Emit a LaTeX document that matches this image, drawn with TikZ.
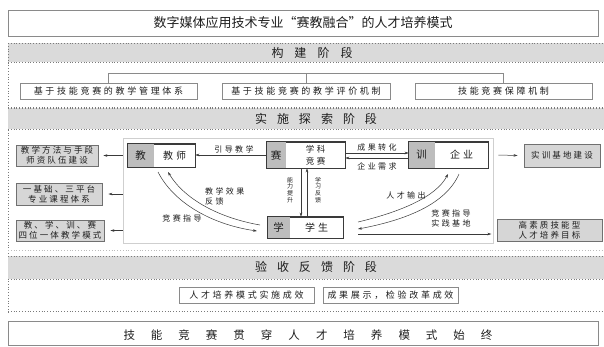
\documentclass[tikz,border=0pt]{standalone}
\usepackage{fontspec}
\setmainfont{Noto Sans CJK SC}
\newfontfamily\lsA[LetterSpace=30]{Noto Sans CJK SC}
\newfontfamily\lsB[LetterSpace=25]{Noto Sans CJK SC}
\usetikzlibrary{arrows.meta,calc}
\definecolor{bandgray}{HTML}{DADADA}
\definecolor{dotgray}{HTML}{7A7A7A}
\definecolor{boxgray}{HTML}{8A8A8A}
\definecolor{partgray}{HTML}{BDBDBD}
\definecolor{sidefill}{HTML}{D6D6D6}
\definecolor{sideborder}{HTML}{707070}
\definecolor{framegray}{HTML}{CFCFCF}
\definecolor{txt}{HTML}{1E1E1E}
\definecolor{linecol}{HTML}{3A3A3A}
\begin{document}
\begin{tikzpicture}[x=1pt,y=-1pt,
  every node/.style={text=txt, inner sep=0pt},
  dotline/.style={draw=dotgray, line width=0.6pt, dash pattern=on 0.8pt off 2pt},
  band/.style={fill=bandgray},
  heading/.style={font=\fontsize{12}{14}\selectfont},
  wbox/.style={draw=boxgray, line width=0.8pt, fill=white, font=\lsA\fontsize{9}{10}\selectfont},
  sidebox/.style={draw=sideborder, line width=0.9pt, fill=sidefill, align=center, font=\lsB\fontsize{8.5}{10}\selectfont},
  framebox/.style={draw=framegray, line width=0.6pt, fill=white},
  ibox/.style={draw=linecol, line width=0.7pt, fill=white},
  gpart/.style={fill=partgray},
  itext/.style={font=\lsA\fontsize{10}{12}\selectfont},
  ktext/.style={font=\fontsize{10.5}{12}\selectfont},
  lab/.style={font=\lsA\fontsize{8}{10}\selectfont},
  vlab/.style={font=\fontsize{6}{6.8}\selectfont, align=center},
  arr/.style={-{Stealth[length=4pt,width=2.6pt]}, draw=linecol, line width=0.5pt},
  conn/.style={draw=boxgray, line width=0.7pt}
]
\useasboundingbox (0,0) rectangle (604,346);

% ---------- title ----------
\node[draw=boxgray, line width=0.8pt, minimum width=590pt, minimum height=26pt,
      font=\fontsize{13}{15}\selectfont] (title) at (303,23) {数字媒体应用技术专业“赛教融合”的人才培养模式};

% ---------- build stage ----------
\fill[band] (8,43) rectangle (604,62);
\draw[dotline] (8,43) -- (604,43);
\draw[dotline] (8,62) -- (604,62);
\draw[dotline] (8,107) -- (604,107);
\draw[dotline] (8,43) -- (8,312);
\node[heading] (h1) at (312,52.5) {构\hspace{11pt}建\hspace{11pt}阶\hspace{11pt}段};

\node[wbox, minimum width=177pt, minimum height=16pt] (b1) at (108.5,91) {基于技能竞赛的教学管理体系};
\node[wbox, minimum width=168pt, minimum height=16pt] (b2) at (306,91) {基于技能竞赛的教学评价机制};
\node[wbox, minimum width=177pt, minimum height=16pt] (b3) at (503.5,91) {技能竞赛保障机制};
\coordinate (bar) at (0,73);
\draw[conn] (b1.north) -- (b1.north |- bar) -- (b3.north |- bar) -- (b3.north);
\draw[conn] (b2.north) -- (b2.north |- bar);

% ---------- implementation stage ----------
\fill[band] (8,108) rectangle (604,129);
\draw[dotline] (8,108) -- (604,108);
\draw[dotline] (8,129) -- (604,129);
\draw[dotline, draw=dotgray!50] (8,250) -- (604,250);
\node[heading] (h2) at (316,118.5) {实\hspace{10pt}施\hspace{10pt}探\hspace{10pt}索\hspace{10pt}阶\hspace{10pt}段};

\node[framebox, minimum width=370pt, minimum height=105pt] (frame) at (308,190.5) {};

% left boxes
\node[sidebox, minimum width=82pt, minimum height=21pt] (l1) at (57,155.5) {教学方法与手段\\师资队伍建设};
\node[sidebox, minimum width=86pt, minimum height=22pt] (l2) at (59,194) {一基础、三平台\\专业课程体系};
\node[sidebox, minimum width=88pt, minimum height=21pt] (l3) at (60,230.5) {教、学、训、赛\\四位一体教学模式};

% right boxes
\node[sidebox, minimum width=76pt, minimum height=23pt] (r1) at (562,155.5) {实训基地建设};
\node[sidebox, minimum width=105pt, minimum height=22pt] (r2) at (549.5,230) {高素质技能型\\人才培养目标};

% inner boxes
\node[ibox, minimum width=67pt, minimum height=23pt] (jiao) at (161.5,155.5) {};
\fill[gpart] (jiao.north west) rectangle ([xshift=26pt]jiao.south west);
\draw[ibox, fill=none] (jiao.north west) rectangle (jiao.south east);
\node[ktext] (jiaoK) at ($(jiao.west)+(13,0)$) {教};
\node[itext] (jiaoT) at ($(jiao.west)+(47,0)$) {教师};

\node[ibox, minimum width=78pt, minimum height=26pt] (sai) at (306,155) {};
\fill[gpart] (sai.north west) rectangle ([xshift=19pt]sai.south west);
\draw[ibox, fill=none] (sai.north west) rectangle (sai.south east);
\node[ktext] (saiK) at ($(sai.west)+(9.5,0)$) {赛};
\node[lab, align=center, font=\lsA\fontsize{8.5}{12}\selectfont] (saiT) at ($(sai.west)+(49,0)$) {学科\\竞赛};

\node[ibox, minimum width=79pt, minimum height=26pt] (xun) at (448.5,155) {};
\fill[gpart] (xun.north west) rectangle ([xshift=26pt]xun.south west);
\draw[ibox, fill=none] (xun.north west) rectangle (xun.south east);
\node[ktext] (xunK) at ($(xun.west)+(13,0)$) {训};
\node[itext] (xunT) at ($(xun.west)+(53,0)$) {企业};

\node[ibox, minimum width=75pt, minimum height=21pt] (xue) at (305.5,227.5) {};
\fill[gpart] (xue.north west) rectangle ([xshift=22pt]xue.south west);
\draw[ibox, fill=none] (xue.north west) rectangle (xue.south east);
\node[ktext] (xueK) at ($(xue.west)+(11,0)$) {学};
\node[itext] (xueT) at ($(xue.west)+(49,0)$) {学生};

% arrows to side boxes
\draw[arr] (l1.east -| frame.west) -- ([xshift=5pt]l1.east);
\draw[arr] (l2.east -| frame.west) -- ([xshift=6pt]l2.east);
\draw[arr] (l3.east -| frame.west) -- ([xshift=6pt]l3.east);
\draw[arr] ([xshift=10pt]xun.east) -- ([xshift=-6pt]r1.west);
\coordinate (gstart) at (358,234);
\draw[arr] (gstart) -- ([xshift=-2pt]gstart -| frame.east);

% sai -> jiao
\draw[arr] (sai.west) -- (sai.west -| jiao.east);
\node[lab] (lyd) at (234,149) {引导教学};

% sai <-> xun
\draw[arr] ([yshift=2pt]sai.east) -- ([yshift=2pt]xun.west);
\draw[arr] ([yshift=-3pt]xun.west) -- ([yshift=-3pt]sai.east);
\node[lab] (lcg) at (377,147) {成果转化};
\node[lab] (lqy) at (377,166) {企业需求};

% sai <-> xue
\draw[arr] ([xshift=-5pt]sai.south) -- ([xshift=-5pt]sai.south |- xue.north);
\draw[arr] ([xshift=1pt]sai.south |- xue.north) -- ([xshift=1pt]sai.south);
\node[vlab] (lnl) at (290,190) {能\\力\\提\\升};
\node[vlab] (lxx) at (318,190) {学\\习\\反\\馈};

% jiao <-> xue curves
\coordinate (ca1) at (158,172);
\coordinate (ca2) at (257,231);
\coordinate (cb1) at (260,225);
\coordinate (cb2) at (168,172);
\draw[arr] (ca1) .. controls (175,205) and (215,225) .. (ca2);
\draw[arr] (cb1) .. controls (220,218) and (185,200) .. (cb2);
\node[lab, align=left, anchor=west] (lxg) at (205,196) {教学效果\\反馈};
\node[lab] (ljs) at (182,218) {竞赛指导};

% xue <-> xun curves
\coordinate (cc1) at (358,222);
\coordinate (cc2) at (448,174);
\coordinate (cd1) at (459,174);
\coordinate (cd2) at (358,229);
\draw[arr] (cc1) .. controls (400,212) and (436,197) .. (cc2);
\draw[arr] (cd1) .. controls (446,204) and (406,220) .. (cd2);
\node[lab] (lrc) at (406,195) {人才输出};
\node[lab, align=center] (ljd) at (451,218.5) {竞赛指导\\实践基地};

% ---------- acceptance stage ----------
\fill[band] (8,256) rectangle (604,279);
\draw[dotline] (8,256) -- (604,256);
\draw[dotline] (8,279) -- (604,279);
\draw[dotline] (8,311) -- (604,311);
\node[heading] (h3) at (316,267) {验\hspace{10pt}收\hspace{10pt}反\hspace{10pt}馈\hspace{10pt}阶\hspace{10pt}段};
\node[wbox, minimum width=135pt, minimum height=16pt] (v1) at (246.5,295) {人才培养模式实施成效};
\node[wbox, minimum width=135pt, minimum height=16pt] (v2) at (390.5,295) {成果展示，检验改革成效};

% ---------- final ----------
\node[draw=boxgray, line width=0.8pt, minimum width=590pt, minimum height=24pt] (fin) at (303,333.5) {};
\node[font=\fontsize{11.5}{13}\selectfont] (fint) at (308,335) {技\hspace{16pt}能\hspace{16pt}竞\hspace{16pt}赛\hspace{16pt}贯\hspace{16pt}穿\hspace{16pt}人\hspace{16pt}才\hspace{16pt}培\hspace{16pt}养\hspace{16pt}模\hspace{16pt}式\hspace{16pt}始\hspace{16pt}终};
\end{tikzpicture}
\end{document}
